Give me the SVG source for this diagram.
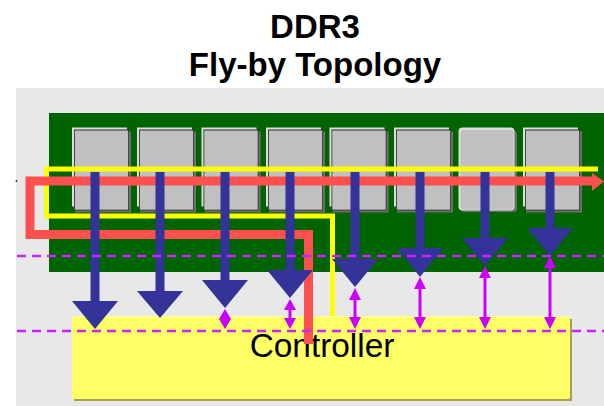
<svg xmlns="http://www.w3.org/2000/svg" width="604" height="406" viewBox="0 0 604 406">
<style>
text{font-family:"Liberation Sans",Arial,sans-serif;fill:#000;text-anchor:middle}
.t{font-size:33px;font-weight:bold}
.hi{fill:#dcdcdc}.sh{fill:#6e6e6e}.bd{fill:#2a2a2a}.bo{fill:#c0c0c0}
.dash{fill:none;stroke:#cc22ff;stroke-width:2.500;stroke-dasharray:9 6}
.bl{fill:#333399}
.mg{fill:#cc00ff}
</style>
<defs>
<g id="chip"><rect class="sh" x="3" y="4" width="56" height="81"/><rect class="hi" x="0" y="0" width="55" height="79"/><rect class="bd" x="2" y="2" width="55" height="81"/><rect class="bo" x="2.800" y="3" width="53.400" height="79.200"/></g>
</defs>
<rect x="16" y="88" width="588" height="318" fill="#e8e8e8"/>
<rect x="49" y="113" width="555" height="159" fill="#006400"/>
<g id="title"><text class="t" x="315" y="38">DDR3</text><text class="t" x="315" y="76">Fly-by Topology</text></g>
<g id="chip1"><use href="#chip" x="72" y="127.500"/></g>
<g id="chip2"><use href="#chip" x="137" y="127.500"/></g>
<g id="chip3"><use href="#chip" x="201.500" y="127.500"/></g>
<g id="chip4"><use href="#chip" x="266" y="127.500"/></g>
<g id="chip5"><use href="#chip" x="329.500" y="127.500"/></g>
<g id="chip6"><use href="#chip" x="394" y="127.500"/></g>
<g id="chip7"><rect class="sh" x="461" y="131" width="56" height="81" rx="3"/><rect class="hi" x="458.500" y="127.500" width="56" height="83" rx="4"/><rect class="bo" x="460.500" y="130" width="53" height="79.500" rx="3"/></g>
<g id="chip8"><use href="#chip" x="523" y="127.500"/></g>
<g id="controller">
<rect x="74" y="319" width="498" height="82" fill="#a8a050"/>
<rect x="72" y="316" width="498" height="83" rx="2" fill="#ffff66"/>
<rect x="73" y="316" width="496" height="1.500" fill="#ffff99"/>
<text x="322" y="357" font-size="33.400">Controller</text>
</g>
<g id="connectors">
<path d="M598 169H46.500V216H332.500V316" fill="none" stroke="#ffff00" stroke-width="5"/>
<path d="M594 181H30V234.500H308.500V344" fill="none" stroke="#ff5050" stroke-width="9"/>
<path d="M592 173L604 181.500L592 191Z" fill="#ff5050"/>
<g class="bl">
<path d="M90.500 172h9v129h18.500l-23 28l-23 -28h18.500z"/>
<path d="M155.500 172h9v119h18.500l-23 27l-23 -27h18.500z"/>
<path d="M220.500 172h9v108h18.500l-23 28l-23 -28h18.500z"/>
<path d="M285.500 172h9v98h18.500l-23 28l-23 -28h18.500z"/>
<path d="M350.500 172h9v87h18.500l-23 28l-23 -28h18.500z"/>
<path d="M415.500 172h9v76h18.500l-23 29l-23 -29h18.500z"/>
<path d="M480.500 172h9v66h18.500l-23 28l-23 -28h18.500z"/>
<path d="M545.500 172h9v56h18.500l-23 28l-23 -28h18.500z"/>
</g>
<path class="dash" d="M17 256H604M17 331H604"/>
<g class="mg">
<path d="M225 309L231 319L225 329L219 319Z"/>
<path d="M290 299L296 310H291.500V318H296L290 329L284 318H288.500V310H284Z"/>
<path d="M355 288L361 300H356.500V317H361L355 329L349 317H353.500V300H349Z"/>
<path d="M420 277L426 289H421.500V317H426L420 329L414 317H418.500V289H414Z"/>
<path d="M485 266L491 278H486.500V317H491L485 329L479 317H483.500V278H479Z"/>
<path d="M550 256L556 268H551.500V317H556L550 329L544 317H548.500V268H544Z"/>
</g>
<circle cx="16.500" cy="181" r="1" fill="#333"/>
</g>
</svg>
